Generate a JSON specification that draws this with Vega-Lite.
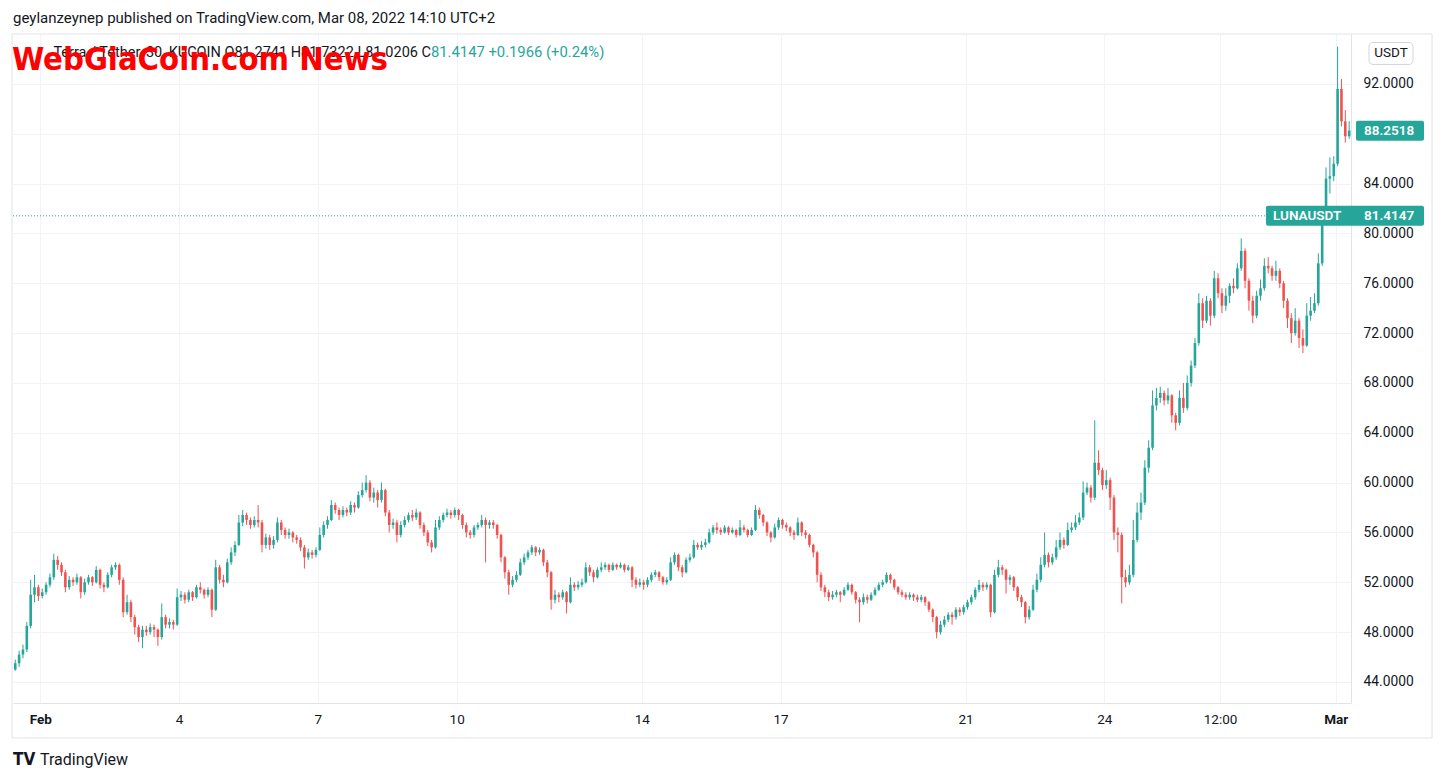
{
"$schema":"https://vega.github.io/schema/vega-lite/v6.json",
"width":1338,"height":669,
"autosize":{"type":"none"},
"padding":{"left":13,"top":34,"right":93,"bottom":79},
"background":"#ffffff",
"config":{"view":{"stroke":null},"font":"Roboto"},
"title":{"text":"geylanzeynep published on TradingView.com, Mar 08, 2022 14:10 UTC+2","anchor":"start","frame":"group","orient":"top","fontSize":15,"fontWeight":"normal","color":"#131722","font":"Roboto","offset":8},
"datasets":{
"candles":[
{"t":"2022-01-31T11:00Z","o":45.0,"h":45.8,"l":44.9,"c":45.5},
{"t":"2022-01-31T13:00Z","o":45.5,"h":46.5,"l":45.2,"c":46.2},
{"t":"2022-01-31T15:00Z","o":46.2,"h":47.0,"l":45.9,"c":46.6},
{"t":"2022-01-31T17:00Z","o":46.6,"h":48.8,"l":46.4,"c":48.5},
{"t":"2022-01-31T19:00Z","o":48.5,"h":52.2,"l":48.3,"c":51.0},
{"t":"2022-01-31T21:00Z","o":51.0,"h":52.6,"l":50.4,"c":51.6},
{"t":"2022-01-31T23:00Z","o":51.6,"h":51.8,"l":50.5,"c":50.9},
{"t":"2022-02-01T01:00Z","o":50.9,"h":51.5,"l":50.7,"c":51.2},
{"t":"2022-02-01T03:00Z","o":51.2,"h":52.0,"l":51.0,"c":51.8},
{"t":"2022-02-01T05:00Z","o":51.8,"h":52.7,"l":51.6,"c":52.4},
{"t":"2022-02-01T07:00Z","o":52.4,"h":54.3,"l":52.2,"c":53.8},
{"t":"2022-02-01T09:00Z","o":53.8,"h":54.1,"l":53.0,"c":53.4},
{"t":"2022-02-01T11:00Z","o":53.4,"h":53.6,"l":52.5,"c":52.8},
{"t":"2022-02-01T13:00Z","o":52.8,"h":53.0,"l":51.2,"c":51.6},
{"t":"2022-02-01T15:00Z","o":51.6,"h":52.5,"l":51.4,"c":52.2},
{"t":"2022-02-01T17:00Z","o":52.2,"h":52.4,"l":51.7,"c":52.0},
{"t":"2022-02-01T19:00Z","o":52.0,"h":52.7,"l":51.8,"c":52.4},
{"t":"2022-02-01T21:00Z","o":52.4,"h":52.5,"l":50.7,"c":51.2},
{"t":"2022-02-01T23:00Z","o":51.2,"h":52.3,"l":51.0,"c":52.0},
{"t":"2022-02-02T01:00Z","o":52.0,"h":52.6,"l":51.8,"c":52.4},
{"t":"2022-02-02T03:00Z","o":52.4,"h":52.5,"l":51.7,"c":52.0},
{"t":"2022-02-02T05:00Z","o":52.0,"h":53.3,"l":51.9,"c":53.0},
{"t":"2022-02-02T07:00Z","o":53.0,"h":53.1,"l":51.5,"c":51.8},
{"t":"2022-02-02T09:00Z","o":51.8,"h":52.0,"l":51.2,"c":51.6},
{"t":"2022-02-02T11:00Z","o":51.6,"h":52.8,"l":51.5,"c":52.6},
{"t":"2022-02-02T13:00Z","o":52.6,"h":53.4,"l":52.4,"c":53.2},
{"t":"2022-02-02T15:00Z","o":53.2,"h":53.6,"l":53.0,"c":53.4},
{"t":"2022-02-02T17:00Z","o":53.4,"h":53.5,"l":51.8,"c":52.2},
{"t":"2022-02-02T19:00Z","o":52.2,"h":52.4,"l":49.2,"c":49.6},
{"t":"2022-02-02T21:00Z","o":49.6,"h":51.0,"l":49.4,"c":50.4},
{"t":"2022-02-02T23:00Z","o":50.4,"h":50.6,"l":48.8,"c":49.2},
{"t":"2022-02-03T01:00Z","o":49.2,"h":49.4,"l":47.8,"c":48.4},
{"t":"2022-02-03T03:00Z","o":48.4,"h":48.6,"l":47.2,"c":47.6},
{"t":"2022-02-03T05:00Z","o":47.6,"h":48.5,"l":46.7,"c":48.2},
{"t":"2022-02-03T07:00Z","o":48.2,"h":48.5,"l":47.7,"c":48.0},
{"t":"2022-02-03T09:00Z","o":48.0,"h":48.7,"l":47.8,"c":48.4},
{"t":"2022-02-03T11:00Z","o":48.4,"h":48.6,"l":47.6,"c":48.2},
{"t":"2022-02-03T13:00Z","o":48.2,"h":48.3,"l":46.9,"c":47.6},
{"t":"2022-02-03T15:00Z","o":47.6,"h":50.3,"l":47.4,"c":49.2},
{"t":"2022-02-03T17:00Z","o":49.2,"h":49.4,"l":48.3,"c":48.6},
{"t":"2022-02-03T19:00Z","o":48.6,"h":49.1,"l":48.3,"c":48.8},
{"t":"2022-02-03T21:00Z","o":48.8,"h":49.0,"l":48.2,"c":48.6},
{"t":"2022-02-03T23:00Z","o":48.6,"h":51.5,"l":48.5,"c":50.8},
{"t":"2022-02-04T01:00Z","o":50.8,"h":51.3,"l":50.5,"c":51.0},
{"t":"2022-02-04T03:00Z","o":51.0,"h":51.2,"l":50.3,"c":50.6},
{"t":"2022-02-04T05:00Z","o":50.6,"h":51.4,"l":50.4,"c":51.2},
{"t":"2022-02-04T07:00Z","o":51.2,"h":51.3,"l":50.5,"c":50.8},
{"t":"2022-02-04T09:00Z","o":50.8,"h":51.8,"l":50.7,"c":51.6},
{"t":"2022-02-04T11:00Z","o":51.6,"h":52.0,"l":51.1,"c":51.4},
{"t":"2022-02-04T13:00Z","o":51.4,"h":51.5,"l":50.7,"c":51.0},
{"t":"2022-02-04T15:00Z","o":51.0,"h":51.6,"l":50.8,"c":51.4},
{"t":"2022-02-04T17:00Z","o":51.4,"h":51.5,"l":49.2,"c":49.8},
{"t":"2022-02-04T19:00Z","o":49.8,"h":53.8,"l":49.7,"c":53.2},
{"t":"2022-02-04T21:00Z","o":53.2,"h":53.4,"l":51.9,"c":52.2},
{"t":"2022-02-04T23:00Z","o":52.2,"h":52.6,"l":51.6,"c":52.0},
{"t":"2022-02-05T01:00Z","o":52.0,"h":53.9,"l":51.9,"c":53.6},
{"t":"2022-02-05T03:00Z","o":53.6,"h":54.8,"l":53.4,"c":54.4},
{"t":"2022-02-05T05:00Z","o":54.4,"h":55.3,"l":54.1,"c":55.0},
{"t":"2022-02-05T07:00Z","o":55.0,"h":57.4,"l":54.9,"c":56.8},
{"t":"2022-02-05T09:00Z","o":56.8,"h":57.8,"l":56.5,"c":57.4},
{"t":"2022-02-05T11:00Z","o":57.4,"h":57.6,"l":56.6,"c":57.0},
{"t":"2022-02-05T13:00Z","o":57.0,"h":57.2,"l":56.3,"c":56.6},
{"t":"2022-02-05T15:00Z","o":56.6,"h":57.3,"l":56.4,"c":57.0},
{"t":"2022-02-05T17:00Z","o":57.0,"h":58.2,"l":56.4,"c":56.8},
{"t":"2022-02-05T19:00Z","o":56.8,"h":57.0,"l":54.4,"c":55.0},
{"t":"2022-02-05T21:00Z","o":55.0,"h":55.9,"l":54.7,"c":55.6},
{"t":"2022-02-05T23:00Z","o":55.6,"h":55.8,"l":54.6,"c":55.0},
{"t":"2022-02-06T01:00Z","o":55.0,"h":55.7,"l":54.7,"c":55.4},
{"t":"2022-02-06T03:00Z","o":55.4,"h":57.2,"l":55.2,"c":56.8},
{"t":"2022-02-06T05:00Z","o":56.8,"h":57.0,"l":55.8,"c":56.2},
{"t":"2022-02-06T07:00Z","o":56.2,"h":56.4,"l":55.5,"c":55.8},
{"t":"2022-02-06T09:00Z","o":55.8,"h":56.3,"l":55.5,"c":56.0},
{"t":"2022-02-06T11:00Z","o":56.0,"h":56.1,"l":55.2,"c":55.6},
{"t":"2022-02-06T13:00Z","o":55.6,"h":55.8,"l":55.1,"c":55.4},
{"t":"2022-02-06T15:00Z","o":55.4,"h":55.6,"l":54.5,"c":54.8},
{"t":"2022-02-06T17:00Z","o":54.8,"h":55.0,"l":53.1,"c":54.0},
{"t":"2022-02-06T19:00Z","o":54.0,"h":54.7,"l":53.8,"c":54.4},
{"t":"2022-02-06T21:00Z","o":54.4,"h":54.6,"l":53.9,"c":54.2},
{"t":"2022-02-06T23:00Z","o":54.2,"h":54.8,"l":54.0,"c":54.6},
{"t":"2022-02-07T01:00Z","o":54.6,"h":56.4,"l":54.5,"c":55.8},
{"t":"2022-02-07T03:00Z","o":55.8,"h":56.9,"l":55.6,"c":56.6},
{"t":"2022-02-07T05:00Z","o":56.6,"h":57.3,"l":56.3,"c":57.0},
{"t":"2022-02-07T07:00Z","o":57.0,"h":58.6,"l":56.9,"c":58.2},
{"t":"2022-02-07T09:00Z","o":58.2,"h":58.4,"l":57.5,"c":57.8},
{"t":"2022-02-07T11:00Z","o":57.8,"h":58.0,"l":57.0,"c":57.4},
{"t":"2022-02-07T13:00Z","o":57.4,"h":58.1,"l":57.2,"c":57.8},
{"t":"2022-02-07T15:00Z","o":57.8,"h":58.0,"l":57.3,"c":57.6},
{"t":"2022-02-07T17:00Z","o":57.6,"h":58.5,"l":57.4,"c":58.2},
{"t":"2022-02-07T19:00Z","o":58.2,"h":58.4,"l":57.6,"c":58.0},
{"t":"2022-02-07T21:00Z","o":58.0,"h":59.3,"l":57.9,"c":59.0},
{"t":"2022-02-07T23:00Z","o":59.0,"h":60.0,"l":58.8,"c":59.4},
{"t":"2022-02-08T01:00Z","o":59.4,"h":60.6,"l":59.2,"c":60.0},
{"t":"2022-02-08T03:00Z","o":60.0,"h":60.2,"l":58.5,"c":58.8},
{"t":"2022-02-08T05:00Z","o":58.8,"h":59.6,"l":58.4,"c":59.2},
{"t":"2022-02-08T07:00Z","o":59.2,"h":59.4,"l":58.0,"c":58.6},
{"t":"2022-02-08T09:00Z","o":58.6,"h":60.0,"l":58.4,"c":59.4},
{"t":"2022-02-08T11:00Z","o":59.4,"h":59.5,"l":57.3,"c":57.6},
{"t":"2022-02-08T13:00Z","o":57.6,"h":57.8,"l":56.0,"c":56.6},
{"t":"2022-02-08T15:00Z","o":56.6,"h":57.1,"l":56.3,"c":56.8},
{"t":"2022-02-08T17:00Z","o":56.8,"h":57.0,"l":55.2,"c":55.8},
{"t":"2022-02-08T19:00Z","o":55.8,"h":56.9,"l":55.6,"c":56.6},
{"t":"2022-02-08T21:00Z","o":56.6,"h":57.3,"l":56.4,"c":57.0},
{"t":"2022-02-08T23:00Z","o":57.0,"h":57.6,"l":56.8,"c":57.4},
{"t":"2022-02-09T01:00Z","o":57.4,"h":57.8,"l":56.9,"c":57.2},
{"t":"2022-02-09T03:00Z","o":57.2,"h":57.9,"l":57.0,"c":57.6},
{"t":"2022-02-09T05:00Z","o":57.6,"h":57.7,"l":56.3,"c":56.6},
{"t":"2022-02-09T07:00Z","o":56.6,"h":56.8,"l":55.7,"c":56.0},
{"t":"2022-02-09T09:00Z","o":56.0,"h":56.2,"l":54.9,"c":55.2},
{"t":"2022-02-09T11:00Z","o":55.2,"h":55.4,"l":54.4,"c":54.8},
{"t":"2022-02-09T13:00Z","o":54.8,"h":57.0,"l":54.7,"c":56.4},
{"t":"2022-02-09T15:00Z","o":56.4,"h":57.3,"l":56.2,"c":57.0},
{"t":"2022-02-09T17:00Z","o":57.0,"h":57.6,"l":56.8,"c":57.4},
{"t":"2022-02-09T19:00Z","o":57.4,"h":57.9,"l":57.2,"c":57.6},
{"t":"2022-02-09T21:00Z","o":57.6,"h":57.8,"l":57.1,"c":57.4},
{"t":"2022-02-09T23:00Z","o":57.4,"h":58.0,"l":57.2,"c":57.8},
{"t":"2022-02-10T01:00Z","o":57.8,"h":57.9,"l":57.0,"c":57.4},
{"t":"2022-02-10T03:00Z","o":57.4,"h":57.5,"l":56.3,"c":56.6},
{"t":"2022-02-10T05:00Z","o":56.6,"h":56.8,"l":55.6,"c":56.0},
{"t":"2022-02-10T07:00Z","o":56.0,"h":56.2,"l":55.5,"c":55.8},
{"t":"2022-02-10T09:00Z","o":55.8,"h":56.6,"l":55.6,"c":56.4},
{"t":"2022-02-10T11:00Z","o":56.4,"h":56.8,"l":56.2,"c":56.6},
{"t":"2022-02-10T13:00Z","o":56.6,"h":57.4,"l":56.4,"c":57.0},
{"t":"2022-02-10T15:00Z","o":57.0,"h":57.2,"l":53.6,"c":56.6},
{"t":"2022-02-10T17:00Z","o":56.6,"h":57.0,"l":56.3,"c":56.8},
{"t":"2022-02-10T19:00Z","o":56.8,"h":57.0,"l":56.3,"c":56.6},
{"t":"2022-02-10T21:00Z","o":56.6,"h":56.7,"l":55.5,"c":55.8},
{"t":"2022-02-10T23:00Z","o":55.8,"h":55.9,"l":53.6,"c":54.0},
{"t":"2022-02-11T01:00Z","o":54.0,"h":54.1,"l":52.3,"c":52.8},
{"t":"2022-02-11T03:00Z","o":52.8,"h":53.0,"l":51.0,"c":51.8},
{"t":"2022-02-11T05:00Z","o":51.8,"h":52.5,"l":51.6,"c":52.2},
{"t":"2022-02-11T07:00Z","o":52.2,"h":52.9,"l":52.0,"c":52.6},
{"t":"2022-02-11T09:00Z","o":52.6,"h":53.9,"l":52.5,"c":53.6},
{"t":"2022-02-11T11:00Z","o":53.6,"h":54.3,"l":53.4,"c":54.0},
{"t":"2022-02-11T13:00Z","o":54.0,"h":54.6,"l":53.8,"c":54.4},
{"t":"2022-02-11T15:00Z","o":54.4,"h":55.0,"l":54.2,"c":54.8},
{"t":"2022-02-11T17:00Z","o":54.8,"h":54.9,"l":54.1,"c":54.4},
{"t":"2022-02-11T19:00Z","o":54.4,"h":54.8,"l":54.2,"c":54.6},
{"t":"2022-02-11T21:00Z","o":54.6,"h":54.7,"l":53.3,"c":53.6},
{"t":"2022-02-11T23:00Z","o":53.6,"h":53.8,"l":52.4,"c":52.8},
{"t":"2022-02-12T01:00Z","o":52.8,"h":52.9,"l":49.8,"c":50.6},
{"t":"2022-02-12T03:00Z","o":50.6,"h":51.4,"l":50.3,"c":51.0},
{"t":"2022-02-12T05:00Z","o":51.0,"h":51.2,"l":50.4,"c":50.8},
{"t":"2022-02-12T07:00Z","o":50.8,"h":51.4,"l":50.6,"c":51.2},
{"t":"2022-02-12T09:00Z","o":51.2,"h":51.3,"l":49.5,"c":50.4},
{"t":"2022-02-12T11:00Z","o":50.4,"h":52.4,"l":50.3,"c":51.8},
{"t":"2022-02-12T13:00Z","o":51.8,"h":52.0,"l":51.3,"c":51.6},
{"t":"2022-02-12T15:00Z","o":51.6,"h":52.1,"l":51.4,"c":51.8},
{"t":"2022-02-12T17:00Z","o":51.8,"h":52.3,"l":51.6,"c":52.0},
{"t":"2022-02-12T19:00Z","o":52.0,"h":53.6,"l":51.9,"c":53.2},
{"t":"2022-02-12T21:00Z","o":53.2,"h":53.4,"l":52.5,"c":52.8},
{"t":"2022-02-12T23:00Z","o":52.8,"h":53.0,"l":52.0,"c":52.4},
{"t":"2022-02-13T01:00Z","o":52.4,"h":53.2,"l":52.3,"c":53.0},
{"t":"2022-02-13T03:00Z","o":53.0,"h":53.6,"l":52.8,"c":53.2},
{"t":"2022-02-13T05:00Z","o":53.2,"h":53.6,"l":53.0,"c":53.4},
{"t":"2022-02-13T07:00Z","o":53.4,"h":53.5,"l":52.8,"c":53.0},
{"t":"2022-02-13T09:00Z","o":53.0,"h":53.6,"l":52.9,"c":53.4},
{"t":"2022-02-13T11:00Z","o":53.4,"h":53.5,"l":53.0,"c":53.2},
{"t":"2022-02-13T13:00Z","o":53.2,"h":53.6,"l":53.1,"c":53.4},
{"t":"2022-02-13T15:00Z","o":53.4,"h":53.5,"l":52.8,"c":53.0},
{"t":"2022-02-13T17:00Z","o":53.0,"h":53.4,"l":52.9,"c":53.2},
{"t":"2022-02-13T19:00Z","o":53.2,"h":53.3,"l":51.6,"c":52.2},
{"t":"2022-02-13T21:00Z","o":52.2,"h":52.4,"l":51.5,"c":51.8},
{"t":"2022-02-13T23:00Z","o":51.8,"h":52.3,"l":51.6,"c":52.0},
{"t":"2022-02-14T01:00Z","o":52.0,"h":52.2,"l":51.4,"c":51.8},
{"t":"2022-02-14T03:00Z","o":51.8,"h":52.4,"l":51.6,"c":52.2},
{"t":"2022-02-14T05:00Z","o":52.2,"h":52.8,"l":52.0,"c":52.6},
{"t":"2022-02-14T07:00Z","o":52.6,"h":53.0,"l":52.4,"c":52.8},
{"t":"2022-02-14T09:00Z","o":52.8,"h":52.9,"l":52.1,"c":52.4},
{"t":"2022-02-14T11:00Z","o":52.4,"h":52.5,"l":51.8,"c":52.0},
{"t":"2022-02-14T13:00Z","o":52.0,"h":52.4,"l":51.8,"c":52.2},
{"t":"2022-02-14T15:00Z","o":52.2,"h":54.0,"l":52.1,"c":53.6},
{"t":"2022-02-14T17:00Z","o":53.6,"h":54.4,"l":53.4,"c":54.2},
{"t":"2022-02-14T19:00Z","o":54.2,"h":54.3,"l":52.9,"c":53.2},
{"t":"2022-02-14T21:00Z","o":53.2,"h":53.4,"l":52.4,"c":52.8},
{"t":"2022-02-14T23:00Z","o":52.8,"h":54.0,"l":52.7,"c":53.8},
{"t":"2022-02-15T01:00Z","o":53.8,"h":54.3,"l":53.6,"c":54.0},
{"t":"2022-02-15T03:00Z","o":54.0,"h":55.4,"l":53.9,"c":55.0},
{"t":"2022-02-15T05:00Z","o":55.0,"h":55.2,"l":54.6,"c":54.8},
{"t":"2022-02-15T07:00Z","o":54.8,"h":55.3,"l":54.6,"c":55.0},
{"t":"2022-02-15T09:00Z","o":55.0,"h":55.5,"l":54.8,"c":55.2},
{"t":"2022-02-15T11:00Z","o":55.2,"h":56.3,"l":55.1,"c":56.0},
{"t":"2022-02-15T13:00Z","o":56.0,"h":56.6,"l":55.8,"c":56.4},
{"t":"2022-02-15T15:00Z","o":56.4,"h":56.8,"l":55.9,"c":56.2},
{"t":"2022-02-15T17:00Z","o":56.2,"h":56.4,"l":55.8,"c":56.0},
{"t":"2022-02-15T19:00Z","o":56.0,"h":56.6,"l":55.9,"c":56.4},
{"t":"2022-02-15T21:00Z","o":56.4,"h":56.5,"l":55.8,"c":56.0},
{"t":"2022-02-15T23:00Z","o":56.0,"h":56.4,"l":55.9,"c":56.2},
{"t":"2022-02-16T01:00Z","o":56.2,"h":56.3,"l":55.6,"c":55.8},
{"t":"2022-02-16T03:00Z","o":55.8,"h":57.0,"l":55.7,"c":56.4},
{"t":"2022-02-16T05:00Z","o":56.4,"h":56.6,"l":56.0,"c":56.2},
{"t":"2022-02-16T07:00Z","o":56.2,"h":56.3,"l":55.6,"c":55.8},
{"t":"2022-02-16T09:00Z","o":55.8,"h":56.4,"l":55.7,"c":56.2},
{"t":"2022-02-16T11:00Z","o":56.2,"h":58.2,"l":56.1,"c":57.8},
{"t":"2022-02-16T13:00Z","o":57.8,"h":58.0,"l":57.1,"c":57.4},
{"t":"2022-02-16T15:00Z","o":57.4,"h":57.5,"l":56.5,"c":56.8},
{"t":"2022-02-16T17:00Z","o":56.8,"h":56.9,"l":55.7,"c":56.0},
{"t":"2022-02-16T19:00Z","o":56.0,"h":56.1,"l":55.2,"c":55.6},
{"t":"2022-02-16T21:00Z","o":55.6,"h":56.7,"l":55.5,"c":56.4},
{"t":"2022-02-16T23:00Z","o":56.4,"h":57.2,"l":56.2,"c":57.0},
{"t":"2022-02-17T01:00Z","o":57.0,"h":57.1,"l":56.3,"c":56.6},
{"t":"2022-02-17T03:00Z","o":56.6,"h":56.8,"l":56.1,"c":56.4},
{"t":"2022-02-17T05:00Z","o":56.4,"h":56.5,"l":55.7,"c":56.0},
{"t":"2022-02-17T07:00Z","o":56.0,"h":56.2,"l":55.4,"c":55.8},
{"t":"2022-02-17T09:00Z","o":55.8,"h":57.2,"l":55.7,"c":56.8},
{"t":"2022-02-17T11:00Z","o":56.8,"h":56.9,"l":55.7,"c":56.0},
{"t":"2022-02-17T13:00Z","o":56.0,"h":56.2,"l":55.5,"c":55.8},
{"t":"2022-02-17T15:00Z","o":55.8,"h":55.9,"l":54.8,"c":55.0},
{"t":"2022-02-17T17:00Z","o":55.0,"h":55.1,"l":54.0,"c":54.4},
{"t":"2022-02-17T19:00Z","o":54.4,"h":54.5,"l":52.0,"c":52.6},
{"t":"2022-02-17T21:00Z","o":52.6,"h":52.8,"l":51.3,"c":51.6},
{"t":"2022-02-17T23:00Z","o":51.6,"h":51.8,"l":50.8,"c":51.2},
{"t":"2022-02-18T01:00Z","o":51.2,"h":51.4,"l":50.5,"c":50.8},
{"t":"2022-02-18T03:00Z","o":50.8,"h":51.3,"l":50.6,"c":51.0},
{"t":"2022-02-18T05:00Z","o":51.0,"h":51.4,"l":50.8,"c":51.2},
{"t":"2022-02-18T07:00Z","o":51.2,"h":51.3,"l":50.4,"c":51.0},
{"t":"2022-02-18T09:00Z","o":51.0,"h":51.6,"l":50.9,"c":51.4},
{"t":"2022-02-18T11:00Z","o":51.4,"h":52.0,"l":51.3,"c":51.8},
{"t":"2022-02-18T13:00Z","o":51.8,"h":51.9,"l":51.0,"c":51.2},
{"t":"2022-02-18T15:00Z","o":51.2,"h":51.3,"l":50.3,"c":50.6},
{"t":"2022-02-18T17:00Z","o":50.6,"h":50.8,"l":48.8,"c":50.4},
{"t":"2022-02-18T19:00Z","o":50.4,"h":51.1,"l":50.2,"c":50.8},
{"t":"2022-02-18T21:00Z","o":50.8,"h":51.0,"l":50.3,"c":50.6},
{"t":"2022-02-18T23:00Z","o":50.6,"h":51.2,"l":50.5,"c":51.0},
{"t":"2022-02-19T01:00Z","o":51.0,"h":51.6,"l":50.9,"c":51.4},
{"t":"2022-02-19T03:00Z","o":51.4,"h":52.0,"l":51.3,"c":51.8},
{"t":"2022-02-19T05:00Z","o":51.8,"h":52.2,"l":51.6,"c":52.0},
{"t":"2022-02-19T07:00Z","o":52.0,"h":52.8,"l":51.9,"c":52.6},
{"t":"2022-02-19T09:00Z","o":52.6,"h":52.7,"l":51.9,"c":52.2},
{"t":"2022-02-19T11:00Z","o":52.2,"h":52.3,"l":51.4,"c":51.6},
{"t":"2022-02-19T13:00Z","o":51.6,"h":51.7,"l":51.0,"c":51.2},
{"t":"2022-02-19T15:00Z","o":51.2,"h":51.4,"l":50.8,"c":51.0},
{"t":"2022-02-19T17:00Z","o":51.0,"h":51.2,"l":50.6,"c":50.8},
{"t":"2022-02-19T19:00Z","o":50.8,"h":51.2,"l":50.6,"c":51.0},
{"t":"2022-02-19T21:00Z","o":51.0,"h":51.1,"l":50.5,"c":50.8},
{"t":"2022-02-19T23:00Z","o":50.8,"h":51.0,"l":50.4,"c":50.6},
{"t":"2022-02-20T01:00Z","o":50.6,"h":51.0,"l":50.4,"c":50.8},
{"t":"2022-02-20T03:00Z","o":50.8,"h":50.9,"l":50.1,"c":50.4},
{"t":"2022-02-20T05:00Z","o":50.4,"h":50.5,"l":49.6,"c":49.8},
{"t":"2022-02-20T07:00Z","o":49.8,"h":49.9,"l":48.8,"c":49.2},
{"t":"2022-02-20T09:00Z","o":49.2,"h":49.3,"l":47.5,"c":48.0},
{"t":"2022-02-20T11:00Z","o":48.0,"h":48.9,"l":47.8,"c":48.6},
{"t":"2022-02-20T13:00Z","o":48.6,"h":49.3,"l":48.4,"c":49.0},
{"t":"2022-02-20T15:00Z","o":49.0,"h":49.6,"l":48.8,"c":49.4},
{"t":"2022-02-20T17:00Z","o":49.4,"h":49.6,"l":48.6,"c":49.2},
{"t":"2022-02-20T19:00Z","o":49.2,"h":50.0,"l":49.0,"c":49.8},
{"t":"2022-02-20T21:00Z","o":49.8,"h":50.0,"l":49.3,"c":49.6},
{"t":"2022-02-20T23:00Z","o":49.6,"h":50.2,"l":49.4,"c":50.0},
{"t":"2022-02-21T01:00Z","o":50.0,"h":50.6,"l":49.8,"c":50.4},
{"t":"2022-02-21T03:00Z","o":50.4,"h":51.0,"l":50.2,"c":50.8},
{"t":"2022-02-21T05:00Z","o":50.8,"h":51.6,"l":50.6,"c":51.4},
{"t":"2022-02-21T07:00Z","o":51.4,"h":52.2,"l":51.2,"c":51.8},
{"t":"2022-02-21T09:00Z","o":51.8,"h":52.0,"l":51.3,"c":51.6},
{"t":"2022-02-21T11:00Z","o":51.6,"h":52.0,"l":51.4,"c":51.8},
{"t":"2022-02-21T13:00Z","o":51.8,"h":51.9,"l":49.2,"c":49.6},
{"t":"2022-02-21T15:00Z","o":49.6,"h":53.0,"l":49.5,"c":52.6},
{"t":"2022-02-21T17:00Z","o":52.6,"h":53.8,"l":52.4,"c":53.2},
{"t":"2022-02-21T19:00Z","o":53.2,"h":53.4,"l":52.6,"c":53.0},
{"t":"2022-02-21T21:00Z","o":53.0,"h":53.1,"l":51.1,"c":52.2},
{"t":"2022-02-21T23:00Z","o":52.2,"h":52.6,"l":51.8,"c":52.4},
{"t":"2022-02-22T01:00Z","o":52.4,"h":52.5,"l":51.3,"c":51.6},
{"t":"2022-02-22T03:00Z","o":51.6,"h":51.7,"l":50.5,"c":50.8},
{"t":"2022-02-22T05:00Z","o":50.8,"h":51.0,"l":50.0,"c":50.4},
{"t":"2022-02-22T07:00Z","o":50.4,"h":50.5,"l":48.7,"c":49.2},
{"t":"2022-02-22T09:00Z","o":49.2,"h":50.1,"l":49.0,"c":49.8},
{"t":"2022-02-22T11:00Z","o":49.8,"h":51.8,"l":49.7,"c":51.4},
{"t":"2022-02-22T13:00Z","o":51.4,"h":52.7,"l":51.2,"c":52.2},
{"t":"2022-02-22T15:00Z","o":52.2,"h":54.0,"l":52.0,"c":53.4},
{"t":"2022-02-22T17:00Z","o":53.4,"h":56.0,"l":53.2,"c":54.2},
{"t":"2022-02-22T19:00Z","o":54.2,"h":54.4,"l":53.2,"c":53.6},
{"t":"2022-02-22T21:00Z","o":53.6,"h":54.3,"l":53.4,"c":54.0},
{"t":"2022-02-22T23:00Z","o":54.0,"h":55.4,"l":53.8,"c":54.8},
{"t":"2022-02-23T01:00Z","o":54.8,"h":56.0,"l":54.6,"c":55.4},
{"t":"2022-02-23T03:00Z","o":55.4,"h":55.6,"l":54.7,"c":55.0},
{"t":"2022-02-23T05:00Z","o":55.0,"h":56.8,"l":54.9,"c":56.2},
{"t":"2022-02-23T07:00Z","o":56.2,"h":56.8,"l":56.0,"c":56.4},
{"t":"2022-02-23T09:00Z","o":56.4,"h":57.4,"l":56.2,"c":56.8},
{"t":"2022-02-23T11:00Z","o":56.8,"h":57.6,"l":56.6,"c":57.2},
{"t":"2022-02-23T13:00Z","o":57.2,"h":60.1,"l":57.0,"c":59.2},
{"t":"2022-02-23T15:00Z","o":59.2,"h":60.0,"l":59.0,"c":59.6},
{"t":"2022-02-23T17:00Z","o":59.6,"h":59.8,"l":58.4,"c":58.8},
{"t":"2022-02-23T19:00Z","o":58.8,"h":65.0,"l":58.6,"c":61.6},
{"t":"2022-02-23T21:00Z","o":61.6,"h":62.6,"l":60.6,"c":61.0},
{"t":"2022-02-23T23:00Z","o":61.0,"h":61.2,"l":59.4,"c":59.8},
{"t":"2022-02-24T01:00Z","o":59.8,"h":61.0,"l":59.5,"c":60.2},
{"t":"2022-02-24T03:00Z","o":60.2,"h":60.4,"l":57.8,"c":58.8},
{"t":"2022-02-24T05:00Z","o":58.8,"h":59.0,"l":55.4,"c":56.0},
{"t":"2022-02-24T07:00Z","o":56.0,"h":56.4,"l":54.4,"c":55.8},
{"t":"2022-02-24T09:00Z","o":55.8,"h":56.0,"l":50.3,"c":52.4},
{"t":"2022-02-24T11:00Z","o":52.4,"h":53.0,"l":51.6,"c":52.0},
{"t":"2022-02-24T13:00Z","o":52.0,"h":53.4,"l":51.8,"c":52.6},
{"t":"2022-02-24T15:00Z","o":52.6,"h":57.0,"l":52.4,"c":55.4},
{"t":"2022-02-24T17:00Z","o":55.4,"h":58.4,"l":55.2,"c":57.6},
{"t":"2022-02-24T19:00Z","o":57.6,"h":59.2,"l":57.0,"c":58.4},
{"t":"2022-02-24T21:00Z","o":58.4,"h":61.8,"l":58.2,"c":61.2},
{"t":"2022-02-24T23:00Z","o":61.2,"h":63.4,"l":60.8,"c":62.8},
{"t":"2022-02-25T01:00Z","o":62.8,"h":67.4,"l":62.6,"c":66.2},
{"t":"2022-02-25T03:00Z","o":66.2,"h":67.6,"l":65.8,"c":66.8},
{"t":"2022-02-25T05:00Z","o":66.8,"h":67.7,"l":66.4,"c":67.2},
{"t":"2022-02-25T07:00Z","o":67.2,"h":67.4,"l":66.2,"c":66.6},
{"t":"2022-02-25T09:00Z","o":66.6,"h":67.6,"l":66.3,"c":67.0},
{"t":"2022-02-25T11:00Z","o":67.0,"h":67.1,"l":64.8,"c":65.4},
{"t":"2022-02-25T13:00Z","o":65.4,"h":65.6,"l":64.2,"c":64.8},
{"t":"2022-02-25T15:00Z","o":64.8,"h":67.4,"l":64.6,"c":66.8},
{"t":"2022-02-25T17:00Z","o":66.8,"h":68.0,"l":65.6,"c":66.0},
{"t":"2022-02-25T19:00Z","o":66.0,"h":68.6,"l":65.8,"c":68.0},
{"t":"2022-02-25T21:00Z","o":68.0,"h":69.8,"l":67.7,"c":69.4},
{"t":"2022-02-25T23:00Z","o":69.4,"h":71.6,"l":69.2,"c":71.2},
{"t":"2022-02-26T01:00Z","o":71.2,"h":75.2,"l":71.0,"c":74.4},
{"t":"2022-02-26T03:00Z","o":74.4,"h":74.8,"l":72.4,"c":73.0},
{"t":"2022-02-26T05:00Z","o":73.0,"h":75.0,"l":72.8,"c":74.6},
{"t":"2022-02-26T07:00Z","o":74.6,"h":74.8,"l":72.6,"c":73.4},
{"t":"2022-02-26T09:00Z","o":73.4,"h":77.0,"l":73.2,"c":76.4},
{"t":"2022-02-26T11:00Z","o":76.4,"h":76.8,"l":74.8,"c":75.2},
{"t":"2022-02-26T13:00Z","o":75.2,"h":75.6,"l":73.6,"c":74.2},
{"t":"2022-02-26T15:00Z","o":74.2,"h":75.6,"l":73.8,"c":75.0},
{"t":"2022-02-26T17:00Z","o":75.0,"h":76.0,"l":74.4,"c":75.8},
{"t":"2022-02-26T19:00Z","o":75.8,"h":76.4,"l":75.2,"c":75.6},
{"t":"2022-02-26T21:00Z","o":75.6,"h":77.6,"l":75.5,"c":77.2},
{"t":"2022-02-26T23:00Z","o":77.2,"h":79.6,"l":77.0,"c":78.6},
{"t":"2022-02-27T01:00Z","o":78.6,"h":78.8,"l":75.6,"c":76.2},
{"t":"2022-02-27T03:00Z","o":76.2,"h":76.4,"l":73.8,"c":74.6},
{"t":"2022-02-27T05:00Z","o":74.6,"h":75.0,"l":72.8,"c":73.4},
{"t":"2022-02-27T07:00Z","o":73.4,"h":75.4,"l":73.2,"c":75.0},
{"t":"2022-02-27T09:00Z","o":75.0,"h":76.3,"l":74.6,"c":75.6},
{"t":"2022-02-27T11:00Z","o":75.6,"h":78.0,"l":75.4,"c":77.4},
{"t":"2022-02-27T13:00Z","o":77.4,"h":78.1,"l":76.8,"c":77.2},
{"t":"2022-02-27T15:00Z","o":77.2,"h":77.4,"l":76.2,"c":76.6},
{"t":"2022-02-27T17:00Z","o":76.6,"h":77.8,"l":76.2,"c":77.0},
{"t":"2022-02-27T19:00Z","o":77.0,"h":77.2,"l":75.6,"c":76.0},
{"t":"2022-02-27T21:00Z","o":76.0,"h":76.2,"l":74.0,"c":74.6},
{"t":"2022-02-27T23:00Z","o":74.6,"h":74.8,"l":72.4,"c":73.2},
{"t":"2022-02-28T01:00Z","o":73.2,"h":73.6,"l":71.2,"c":72.0},
{"t":"2022-02-28T03:00Z","o":72.0,"h":74.0,"l":71.8,"c":73.0},
{"t":"2022-02-28T05:00Z","o":73.0,"h":73.2,"l":70.8,"c":71.6},
{"t":"2022-02-28T07:00Z","o":71.6,"h":72.3,"l":70.4,"c":71.0},
{"t":"2022-02-28T09:00Z","o":71.0,"h":74.4,"l":70.9,"c":73.4},
{"t":"2022-02-28T11:00Z","o":73.4,"h":74.9,"l":73.0,"c":73.8},
{"t":"2022-02-28T13:00Z","o":73.8,"h":75.2,"l":73.6,"c":74.4},
{"t":"2022-02-28T15:00Z","o":74.4,"h":78.4,"l":74.2,"c":77.6},
{"t":"2022-02-28T17:00Z","o":77.6,"h":82.2,"l":77.4,"c":81.6},
{"t":"2022-02-28T19:00Z","o":81.6,"h":85.3,"l":81.4,"c":84.4},
{"t":"2022-02-28T21:00Z","o":84.4,"h":86.1,"l":83.2,"c":84.6},
{"t":"2022-02-28T23:00Z","o":84.6,"h":86.2,"l":84.2,"c":85.6},
{"t":"2022-03-01T01:00Z","o":85.6,"h":95.0,"l":85.4,"c":91.6},
{"t":"2022-03-01T03:00Z","o":91.6,"h":92.4,"l":88.6,"c":89.0},
{"t":"2022-03-01T05:00Z","o":89.0,"h":89.9,"l":87.3,"c":87.8},
{"t":"2022-03-01T07:00Z","o":87.8,"h":89.0,"l":87.6,"c":88.2518}
],
"lastp":[{"p":88.2518}],
"sym":[{"name":"LUNAUSDT","p":81.4147}],
"legend":[{"head":"Terra / Tether, 30, KUCOIN   O81.2741    H81.7322    L81.0206  C","vals":"81.4147  +0.1966 (+0.24%)"}]
},
"layer":[
{"data":{"values":[{}]},
 "mark":{"type":"rect","fill":"transparent","stroke":"#e0e3eb","strokeWidth":1},
 "encoding":{
  "x":{"datum":{"year":2022,"month":1,"date":31,"hours":9,"minutes":19,"utc":true},"type":"temporal"},
  "x2":{"datum":{"year":2022,"month":3,"date":3,"hours":1,"minutes":59,"utc":true}},
  "y":{"datum":96.01,"type":"quantitative"},
  "y2":{"datum":39.5}}},
{"data":{"name":"candles"},
 "mark":{"type":"rule","strokeWidth":1},
 "encoding":{
  "x":{"field":"t","type":"temporal",
   "scale":{"type":"utc","nice":false,"padding":0,"domain":[{"year":2022,"month":1,"date":31,"hours":9,"minutes":50,"utc":true},{"year":2022,"month":3,"date":1,"hours":7,"minutes":57,"utc":true}]},
   "axis":{"title":null,"values":[
     {"year":2022,"month":2,"date":1,"utc":true},
     {"year":2022,"month":2,"date":4,"utc":true},
     {"year":2022,"month":2,"date":7,"utc":true},
     {"year":2022,"month":2,"date":10,"utc":true},
     {"year":2022,"month":2,"date":14,"utc":true},
     {"year":2022,"month":2,"date":17,"utc":true},
     {"year":2022,"month":2,"date":21,"utc":true},
     {"year":2022,"month":2,"date":24,"utc":true},
     {"year":2022,"month":2,"date":26,"hours":12,"utc":true},
     {"year":2022,"month":3,"date":1,"utc":true}],
    "labelExpr":"utcdate(datum.value) == 1 && utchours(datum.value) == 0 ? utcFormat(datum.value, '%b') : (utchours(datum.value) == 12 ? '12:00' : utcFormat(datum.value, '%-d'))",
    "labelFontWeight":{"condition":{"test":"utcdate(datum.value) == 1 && utchours(datum.value) == 0","value":"bold"},"value":"normal"},
    "grid":true,"gridColor":"#f0f3fa","gridWidth":1,"ticks":false,"tickSize":0,
    "domain":true,"domainColor":"#e0e3eb","domainWidth":1,
    "labelColor":"#131722","labelFontSize":13.5,"labelFont":"Roboto","labelPadding":9,
    "labelOverlap":false,"labelFlush":false,"labelBound":false}},
  "y":{"field":"l","type":"quantitative",
   "scale":{"domain":[42.31,96.01],"nice":false,"zero":false,"padding":0},
   "axis":{"orient":"right","title":null,"values":[44,48,52,56,60,64,68,72,76,80,84,88,92],
    "labelExpr":"datum.value == 88 ? '' : format(datum.value, '.4f')",
    "grid":true,"gridColor":"#f0f3fa","gridWidth":1,"ticks":false,"tickSize":0,
    "domain":true,"domainColor":"#e0e3eb","domainWidth":1,
    "labelColor":"#131722","labelFontSize":13.8,"labelFont":"Roboto","labelPadding":12,
    "labelOverlap":false,"labelFlush":false,"labelBound":false}},
  "y2":{"field":"h"},
  "color":{"condition":{"test":"datum.c >= datum.o","value":"#26a69a"},"value":"#ef5350"}}},
{"data":{"name":"candles"},
 "mark":{"type":"bar","size":2.6},
 "encoding":{
  "x":{"field":"t","type":"temporal"},
  "y":{"field":"o","type":"quantitative"},
  "y2":{"field":"c"},
  "color":{"condition":{"test":"datum.c >= datum.o","value":"#26a69a"},"value":"#ef5350"}}},
{"data":{"name":"sym"},
 "mark":{"type":"rule","stroke":"#26a69a","strokeWidth":1,"strokeDash":[1,2]},
 "encoding":{
  "x":{"datum":{"year":2022,"month":1,"date":31,"hours":9,"minutes":50,"utc":true},"type":"temporal"},
  "x2":{"datum":{"year":2022,"month":2,"date":27,"hours":11,"minutes":50,"utc":true}},
  "y":{"field":"p","type":"quantitative"}}},
{"data":{"name":"sym"},
 "mark":{"type":"tick","orient":"horizontal","size":158,"thickness":20,"color":"#26a69a","opacity":1,"cornerRadius":2},
 "encoding":{
  "x":{"datum":{"year":2022,"month":3,"date":1,"hours":4,"minutes":50,"utc":true},"type":"temporal"},
  "y":{"field":"p","type":"quantitative"}}},
{"data":{"name":"sym"},
 "mark":{"type":"text","align":"left","baseline":"middle","color":"#ffffff","fontSize":13.5,"fontWeight":600,"font":"Roboto"},
 "encoding":{
  "x":{"datum":{"year":2022,"month":2,"date":27,"hours":15,"minutes":29,"utc":true},"type":"temporal"},
  "y":{"field":"p","type":"quantitative"},
  "text":{"field":"name"}}},
{"data":{"name":"sym"},
 "mark":{"type":"text","align":"left","baseline":"middle","color":"#ffffff","fontSize":13.5,"fontWeight":600,"font":"Roboto"},
 "encoding":{
  "x":{"datum":{"year":2022,"month":3,"date":1,"hours":14,"minutes":41,"utc":true},"type":"temporal"},
  "y":{"field":"p","type":"quantitative"},
  "text":{"field":"p","type":"quantitative","format":".4f"}}},
{"data":{"name":"lastp"},
 "mark":{"type":"tick","orient":"horizontal","size":68,"thickness":20,"color":"#26a69a","opacity":1,"cornerRadius":2},
 "encoding":{
  "x":{"datum":{"year":2022,"month":3,"date":2,"hours":4,"minutes":11,"utc":true},"type":"temporal"},
  "y":{"field":"p","type":"quantitative"}}},
{"data":{"name":"lastp"},
 "mark":{"type":"text","align":"left","baseline":"middle","color":"#ffffff","fontSize":13.5,"fontWeight":600,"font":"Roboto"},
 "encoding":{
  "x":{"datum":{"year":2022,"month":3,"date":1,"hours":14,"minutes":41,"utc":true},"type":"temporal"},
  "y":{"field":"p","type":"quantitative"},
  "text":{"field":"p","type":"quantitative","format":".4f"}}},
{"data":{"values":[{}]},
 "mark":{"type":"tick","orient":"horizontal","size":44,"thickness":22,"fill":"#ffffff","stroke":"#d1d4dc","strokeWidth":1,"opacity":1,"cornerRadius":4},
 "encoding":{
  "x":{"datum":{"year":2022,"month":3,"date":2,"hours":4,"minutes":42,"utc":true},"type":"temporal"},
  "y":{"datum":94.45,"type":"quantitative"}}},
{"data":{"values":[{}]},
 "mark":{"type":"text","align":"center","baseline":"middle","color":"#131722","fontSize":13.5,"font":"Roboto","text":"USDT"},
 "encoding":{
  "x":{"datum":{"year":2022,"month":3,"date":2,"hours":4,"minutes":42,"utc":true},"type":"temporal"},
  "y":{"datum":94.45,"type":"quantitative"}}},
{"data":{"name":"legend"},
 "mark":{"type":"text","align":"right","baseline":"middle","color":"#131722","fontSize":14.5,"font":"Roboto"},
 "encoding":{
  "x":{"datum":{"year":2022,"month":2,"date":9,"hours":10,"minutes":40,"utc":true},"type":"temporal"},
  "y":{"datum":94.49,"type":"quantitative"},
  "text":{"field":"head"}}},
{"data":{"name":"legend"},
 "mark":{"type":"text","align":"left","baseline":"middle","color":"#26a69a","fontSize":14.8,"font":"Roboto"},
 "encoding":{
  "x":{"datum":{"year":2022,"month":2,"date":9,"hours":10,"minutes":40,"utc":true},"type":"temporal"},
  "y":{"datum":94.49,"type":"quantitative"},
  "text":{"field":"vals"}}},
{"data":{"values":[{}]},
 "mark":{"type":"text","align":"left","baseline":"alphabetic","color":"#ff0000","fontSize":32.5,"fontWeight":"bold","font":"Liberation Sans Narrow, DejaVu Sans Condensed, sans-serif","text":"WebGiaCoin.com News"},
 "encoding":{
  "x":{"datum":{"year":2022,"month":1,"date":31,"hours":9,"minutes":19,"utc":true},"type":"temporal"},
  "y":{"datum":93.12,"type":"quantitative"}}},
{"data":{"values":[{}]},
 "mark":{"type":"text","align":"left","baseline":"middle","color":"#131722","fontSize":17,"fontWeight":"bold","font":"DejaVu Sans Condensed","text":"TV"},
 "encoding":{
  "x":{"datum":{"year":2022,"month":1,"date":31,"hours":9,"minutes":50,"utc":true},"type":"temporal"},
  "y":{"datum":37.74,"type":"quantitative"}}},
{"data":{"values":[{}]},
 "mark":{"type":"text","align":"left","baseline":"middle","color":"#131722","fontSize":16,"font":"Roboto","text":"TradingView"},
 "encoding":{
  "x":{"datum":{"year":2022,"month":1,"date":31,"hours":23,"minutes":50,"utc":true},"type":"temporal"},
  "y":{"datum":37.74,"type":"quantitative"}}}
]
}
